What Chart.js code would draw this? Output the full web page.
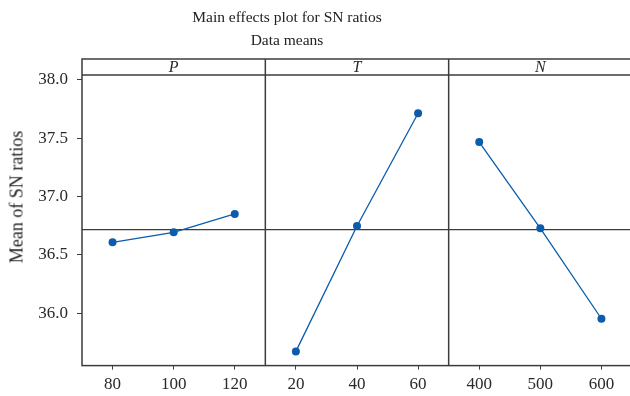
<!DOCTYPE html>
<html>
<head>
<meta charset="utf-8">
<script src="https://cdn.jsdelivr.net/npm/chart.js@4.4.1/dist/chart.umd.min.js"></script>
<style>
  html, body { margin: 0; padding: 0; background: #fff; overflow: hidden; }
  #wrap { position: relative; width: 636px; height: 402px; }
  .title {
    position: absolute; left: 0; top: 5px; width: 574px;
    text-align: center; font: 15.5px "Liberation Serif", serif; line-height: 23px; color: #222;
  }
  .ytitle {
    position: absolute; left: 17px; top: 197px;
    transform: translate(-50%, -50%) rotate(-90deg);
    white-space: nowrap; font: 18px "Liberation Serif", serif; color: #222;
  }
</style>
</head>
<body>
<div id="wrap">
  <canvas id="chart"></canvas>
  <div class="title">Main effects plot for SN ratios<br>Data means</div>
  <div class="ytitle">Mean of SN ratios</div>
</div>
<script>
// factor names shown in the header strip
const factors = ["P", "T", "N"];

// levels of each factor (x ticks)
const pLevels = [80, 100, 120];
const tLevels = [20, 40, 60];
const nLevels = [400, 500, 600];

// mean SN ratio per level
const pMeans = [36.607, 36.693, 36.850];
const tMeans = [35.671, 36.747, 37.715];
const nMeans = [37.467, 36.727, 35.951];

// overall mean (reference line)
const grandMean = 36.716;

// axis ranges
const pRange = [70, 130];
const tRange = [10, 70];
const nRange = [350, 650];
const yTicks = [36.0, 36.5, 37.0, 37.5, 38.0];
const yMin = 35.549;
const yMax = 38.18;
const stripValue = 38.043;

const BLUE = "#0b5cad";
const FRAME = "#3c3c3c";
const TEXT = "#2a2a2a";
const FONT = "'Liberation Serif', serif";

function points(levels, means) {
  return levels.map((x, i) => ({ x, y: means[i] }));
}

function meanLine(range, axisId) {
  return {
    data: range.map((x) => ({ x, y: grandMean })),
    xAxisID: axisId,
    borderColor: FRAME,
    borderWidth: 1.3,
    pointRadius: 0,
    order: 2,
  };
}

function effectLine(levels, means, axisId) {
  return {
    data: points(levels, means),
    xAxisID: axisId,
    borderColor: BLUE,
    backgroundColor: BLUE,
    borderWidth: 1.3,
    pointRadius: 4,
    pointBorderWidth: 0,
    order: 1,
  };
}

function panelAxis(range, levels) {
  return {
    type: "linear",
    position: "bottom",
    stack: "panels",
    stackWeight: 1,
    min: range[0],
    max: range[1],
    afterBuildTicks: (axis) => {
      axis.ticks = levels.map((v) => ({ value: v }));
    },
    ticks: {
      color: TEXT,
      padding: 5,
      font: { family: FONT, size: 17 },
      autoSkip: false,
      maxRotation: 0,
      callback: (v) => String(v),
    },
    grid: { display: true, drawOnChartArea: false, drawTicks: true, tickLength: 4, color: FRAME },
    border: { display: false },
  };
}

// frame, panel dividers and header strip with factor names
const panelFrame = {
  id: "panelFrame",
  beforeDatasetsDraw(chart) {
    const { ctx, chartArea, scales } = chart;
    const panels = [scales.x1, scales.x2, scales.x3];
    const yStrip = scales.y.getPixelForValue(stripValue);
    ctx.save();
    ctx.strokeStyle = FRAME;
    ctx.lineWidth = 1.5;
    ctx.strokeRect(chartArea.left, chartArea.top, chartArea.right - chartArea.left, chartArea.bottom - chartArea.top);
    ctx.beginPath();
    panels.slice(1).forEach((s) => {
      ctx.moveTo(s.left, chartArea.top);
      ctx.lineTo(s.left, chartArea.bottom);
    });
    ctx.moveTo(chartArea.left, yStrip);
    ctx.lineTo(chartArea.right, yStrip);
    ctx.stroke();
    ctx.fillStyle = TEXT;
    ctx.font = "italic 16px " + FONT;
    ctx.textAlign = "center";
    ctx.textBaseline = "middle";
    panels.forEach((s, i) => {
      ctx.fillText(factors[i], (s.left + s.right) / 2, (chartArea.top + yStrip) / 2 + 1);
    });
    ctx.restore();
  },
};

new Chart(document.getElementById("chart"), {
  type: "line",
  data: {
    datasets: [
      meanLine(pRange, "x1"),
      meanLine(tRange, "x2"),
      meanLine(nRange, "x3"),
      effectLine(pLevels, pMeans, "x1"),
      effectLine(tLevels, tMeans, "x2"),
      effectLine(nLevels, nMeans, "x3"),
    ],
  },
  options: {
    responsive: true,
    maintainAspectRatio: false,
    animation: false,
    layout: { padding: { top: 59, bottom: 2, left: 0, right: 2 } },
    plugins: {
      legend: { display: false },
      tooltip: { enabled: false },
    },
    scales: {
      x1: panelAxis(pRange, pLevels),
      x2: panelAxis(tRange, tLevels),
      x3: panelAxis(nRange, nLevels),
      y: {
        type: "linear",
        min: yMin,
        max: yMax,
        afterBuildTicks: (axis) => {
          axis.ticks = yTicks.map((v) => ({ value: v }));
        },
        afterFit: (axis) => {
          axis.width = 82;
        },
        ticks: {
          color: TEXT,
          padding: 9,
          font: { family: FONT, size: 17 },
          callback: (v) => v.toFixed(1),
        },
        grid: { display: true, drawOnChartArea: false, drawTicks: true, tickLength: 5, color: FRAME },
        border: { display: false },
      },
    },
  },
  plugins: [panelFrame],
});
</script>
</body>
</html>
